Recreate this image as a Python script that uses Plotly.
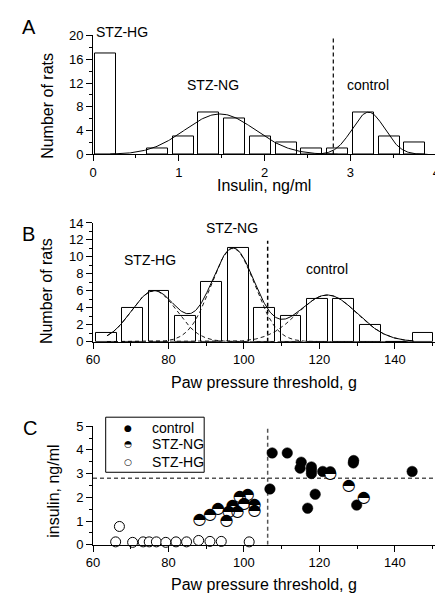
import numpy as np
import plotly.graph_objects as go

W, H = 443, 600

# ---------------- Panel A: insulin histogram ----------------
ins_bin_centers = [0.15, 0.75, 1.05, 1.35, 1.65, 1.95, 2.25, 2.55, 2.85, 3.15, 3.45, 3.75]
ins_counts = [17, 1, 3, 7, 6, 3, 2, 1, 1, 7, 3, 2]
# gaussian fits (STZ-NG, control)
ins_fit_amp = [6.8, 7.1]
ins_fit_mean = [1.48, 3.21]
ins_fit_sd = [0.41, 0.19]
ins_fit_lo = [0.2, 2.65]
ins_fit_hi = [2.85, 3.9]
ins_threshold = 2.8

# ---------------- Panel B: paw pressure histogram ----------------
paw_bin_centers = [63.5, 70.5, 77.5, 84.5, 91.5, 98.5, 105.5, 112.5, 119.5, 126.5, 133.5, 140.5, 147.5]
paw_counts = [1, 4, 6, 3, 7, 11, 4, 3, 5, 5, 2, 0, 1]
# gaussian fits (STZ-HG, STZ-NG, control)
paw_fit_amp = [6.0, 11.0, 5.5]
paw_fit_mean = [76.2, 97.1, 122.1]
paw_fit_sd = [6.0, 5.8, 7.9]
paw_fit_lo, paw_fit_hi = 63.7, 145.0
paw_threshold = 106.3

# ---------------- Panel C: scatter ----------------
ctrl_paw = [107.5, 111.5, 106.9, 115.2, 114.9, 117.9, 117.9, 117.9, 120.9, 118.9, 116.9, 129.1, 129.0, 129.9, 144.6, 122.9]
ctrl_ins = [3.87, 3.87, 2.35, 3.48, 3.23, 3.28, 3.15, 3.00, 3.09, 2.13, 1.54, 3.55, 3.45, 1.67, 3.09, 3.08]
ng_paw = [88.2, 91.0, 93.1, 95.4, 96.0, 97.0, 98.3, 98.9, 100.0, 101.0, 102.8, 102.8, 122.9, 127.8, 131.8]
ng_ins = [1.04, 1.25, 1.52, 1.01, 1.38, 1.63, 1.38, 2.01, 1.70, 2.08, 1.66, 1.43, 2.97, 2.48, 1.97]
hg_paw = [66.0, 67.0, 70.5, 73.3, 74.9, 76.8, 79.3, 82.0, 84.8, 88.0, 91.0, 94.0, 101.4]
hg_ins = [0.12, 0.77, 0.10, 0.12, 0.12, 0.12, 0.10, 0.12, 0.12, 0.18, 0.14, 0.14, 0.12]

FONT = "Liberation Sans, Arial, sans-serif"


def gauss(x, a, m, s):
    return a * np.exp(-(x - m) ** 2 / (2 * s ** 2))


def px(x):
    return x / W


def py(y):
    return 1 - y / H


fig = go.Figure()

# ---- A
fig.add_trace(go.Bar(x=ins_bin_centers, y=ins_counts, width=0.245,
                     marker=dict(color="white", line=dict(color="black", width=1)),
                     xaxis="x", yaxis="y", showlegend=False))
for a, m, s, lo, hi in zip(ins_fit_amp, ins_fit_mean, ins_fit_sd, ins_fit_lo, ins_fit_hi):
    xx = np.linspace(lo, hi, 200)
    fig.add_trace(go.Scatter(x=xx, y=gauss(xx, a, m, s), mode="lines",
                             line=dict(color="black", width=1),
                             xaxis="x", yaxis="y", showlegend=False))
fig.add_trace(go.Scatter(x=[ins_threshold, ins_threshold], y=[0, 19.7], mode="lines",
                         line=dict(color="black", width=1.2, dash="4px,3px"),
                         xaxis="x", yaxis="y", showlegend=False))

# ---- B
fig.add_trace(go.Bar(x=paw_bin_centers, y=paw_counts, width=5.5,
                     marker=dict(color="white", line=dict(color="black", width=1)),
                     xaxis="x2", yaxis="y2", showlegend=False))
xx = np.linspace(paw_fit_lo, paw_fit_hi, 400)
total = np.zeros_like(xx)
for a, m, s in zip(paw_fit_amp, paw_fit_mean, paw_fit_sd):
    comp = gauss(xx, a, m, s)
    total += comp
    fig.add_trace(go.Scatter(x=xx, y=comp, mode="lines",
                             line=dict(color="black", width=0.9, dash="4px,3px"),
                             xaxis="x2", yaxis="y2", showlegend=False))
fig.add_trace(go.Scatter(x=xx, y=total, mode="lines", line=dict(color="black", width=1),
                         xaxis="x2", yaxis="y2", showlegend=False))
fig.add_trace(go.Scatter(x=[paw_threshold, paw_threshold], y=[0, 11.9], mode="lines",
                         line=dict(color="black", width=1.5, dash="4px,3px"),
                         xaxis="x2", yaxis="y2", showlegend=False))

# ---- C
fig.add_trace(go.Scatter(x=[60, 151], y=[ins_threshold, ins_threshold], mode="lines",
                         line=dict(color="#555555", width=1.5, dash="4px,3px"),
                         xaxis="x3", yaxis="y3", showlegend=False))
fig.add_trace(go.Scatter(x=[paw_threshold, paw_threshold], y=[0, 4.93], mode="lines",
                         line=dict(color="#555555", width=1.5, dash="4px,3px"),
                         xaxis="x3", yaxis="y3", showlegend=False))
fig.add_trace(go.Scatter(x=hg_paw, y=hg_ins, mode="markers", cliponaxis=False,
                         marker=dict(symbol="circle", size=10, color="white",
                                     line=dict(color="black", width=1)),
                         xaxis="x3", yaxis="y3", showlegend=False))
fig.add_trace(go.Scatter(x=ctrl_paw, y=ctrl_ins, mode="markers", cliponaxis=False,
                         marker=dict(symbol="circle", size=10.5, color="black",
                                     line=dict(color="black", width=0.5)),
                         xaxis="x3", yaxis="y3", showlegend=False))
fig.add_trace(go.Scatter(x=ng_paw, y=ng_ins, mode="markers", cliponaxis=False,
                         marker=dict(symbol="circle", size=10, color="white",
                                     line=dict(width=0)),
                         xaxis="x3", yaxis="y3", showlegend=False))
fig.add_trace(go.Scatter(x=ng_paw, y=ng_ins, mode="text", text=["\u25d3"] * len(ng_paw),
                         cliponaxis=False, textposition="middle center",
                         textfont=dict(family="DejaVu Sans", size=16, color="black"),
                         xaxis="x3", yaxis="y3", showlegend=False))

# ---- axes
xdom = [px(80), px(432)]
common = dict(showline=True, linecolor="black", linewidth=1, showgrid=False, zeroline=False,
              ticks="outside", ticklen=6, tickwidth=1, tickcolor="black",
              tickfont=dict(family=FONT, size=13, color="black"), fixedrange=True)

fig.update_layout(
    xaxis=dict(domain=xdom, range=[0, 4], dtick=1, tick0=0, anchor="y",
               minor=dict(dtick=0.5, ticklen=3, ticks="outside", tickcolor="black"), **common),
    yaxis=dict(domain=[py(143), py(21)], range=[0, 20], dtick=4, anchor="x",
               minor=dict(dtick=2, ticklen=3, ticks="outside", tickcolor="black"), **common),
    xaxis2=dict(domain=xdom, range=[60, 151], dtick=20, tick0=60, anchor="y2",
                minor=dict(dtick=10, ticklen=3, ticks="outside", tickcolor="black"), **common),
    yaxis2=dict(domain=[py(335), py(213.3)], range=[0, 14], dtick=2, anchor="x2",
                minor=dict(dtick=1, ticklen=3, ticks="outside", tickcolor="black"), **common),
    xaxis3=dict(domain=xdom, range=[60, 151], dtick=20, tick0=60, anchor="y3",
                minor=dict(dtick=10, ticklen=3, ticks="outside", tickcolor="black"), **common),
    yaxis3=dict(domain=[py(543.3), py(421.7)], range=[0, 5], dtick=1, anchor="x3",
                minor=dict(dtick=0.5, ticklen=3, ticks="outside", tickcolor="black"), **common),
)

ann = []


def pann(text, x, y, size=16, angle=0, anchor="center"):
    ann.append(dict(text=text, x=px(x), y=py(y), xref="paper", yref="paper",
                    xanchor=anchor, yanchor="middle", showarrow=False, textangle=angle,
                    font=dict(family=FONT, size=size, color="black")))


# panel letters
pann("A", 14, 12, 20)
pann("B", 14, 225, 20)
pann("C", 15, 423.5, 20)
# axis titles
pann("Insulin, ng/ml", 255, 175)
pann("Number of rats", 34, 93, angle=-90)
pann("Paw pressure threshold, g", 255, 377)
pann("Number of rats", 33, 283, angle=-90)
pann("Paw pressure threshold, g", 255, 584)
pann("insulin, ng/ml", 40, 489, angle=-90)
# label above the top of panel A's axis
pann("STZ-HG", 110, 17, 14)

# group labels in data coordinates
for text, x, y, xr, yr in [
    ("STZ-NG", 1.40, 11.7, "x", "y"),
    ("control", 3.20, 11.7, "x", "y"),
    ("STZ-NG", 96.8, 13.4, "x2", "y2"),
    ("STZ-HG", 75.1, 9.6, "x2", "y2"),
    ("control", 121.9, 8.6, "x2", "y2"),
]:
    ann.append(dict(text=text, x=x, y=y, xref=xr, yref=yr, showarrow=False,
                    xanchor="center", yanchor="middle",
                    font=dict(family=FONT, size=14, color="black")))

# manual legend for panel C
legend_rows = [("\u25cf", "control", 423.3), ("\u25d3", "STZ-NG", 440.5), ("\u25cb", "STZ-HG", 458.5)]
for sym, lab, y in legend_rows:
    ann.append(dict(text=sym, x=px(115.7), y=py(y), xref="paper", yref="paper", showarrow=False,
                    xanchor="center", yanchor="middle",
                    font=dict(family="DejaVu Sans", size=9, color="black")))
    ann.append(dict(text=lab, x=px(138), y=py(y), xref="paper", yref="paper", showarrow=False,
                    xanchor="left", yanchor="middle",
                    font=dict(family=FONT, size=14, color="black")))

fig.update_layout(
    annotations=ann,
    shapes=[dict(type="rect", xref="paper", yref="paper", x0=px(93), x1=px(194),
                 y0=py(469), y1=py(412.5), line=dict(color="black", width=1),
                 fillcolor="white", layer="above")],
    width=W, height=H, autosize=False,
    margin=dict(l=0, r=0, t=0, b=0),
    paper_bgcolor="white", plot_bgcolor="white",
    bargap=0, showlegend=False,
    font=dict(family=FONT, color="black"),
)

fig.write_html("out.html")
